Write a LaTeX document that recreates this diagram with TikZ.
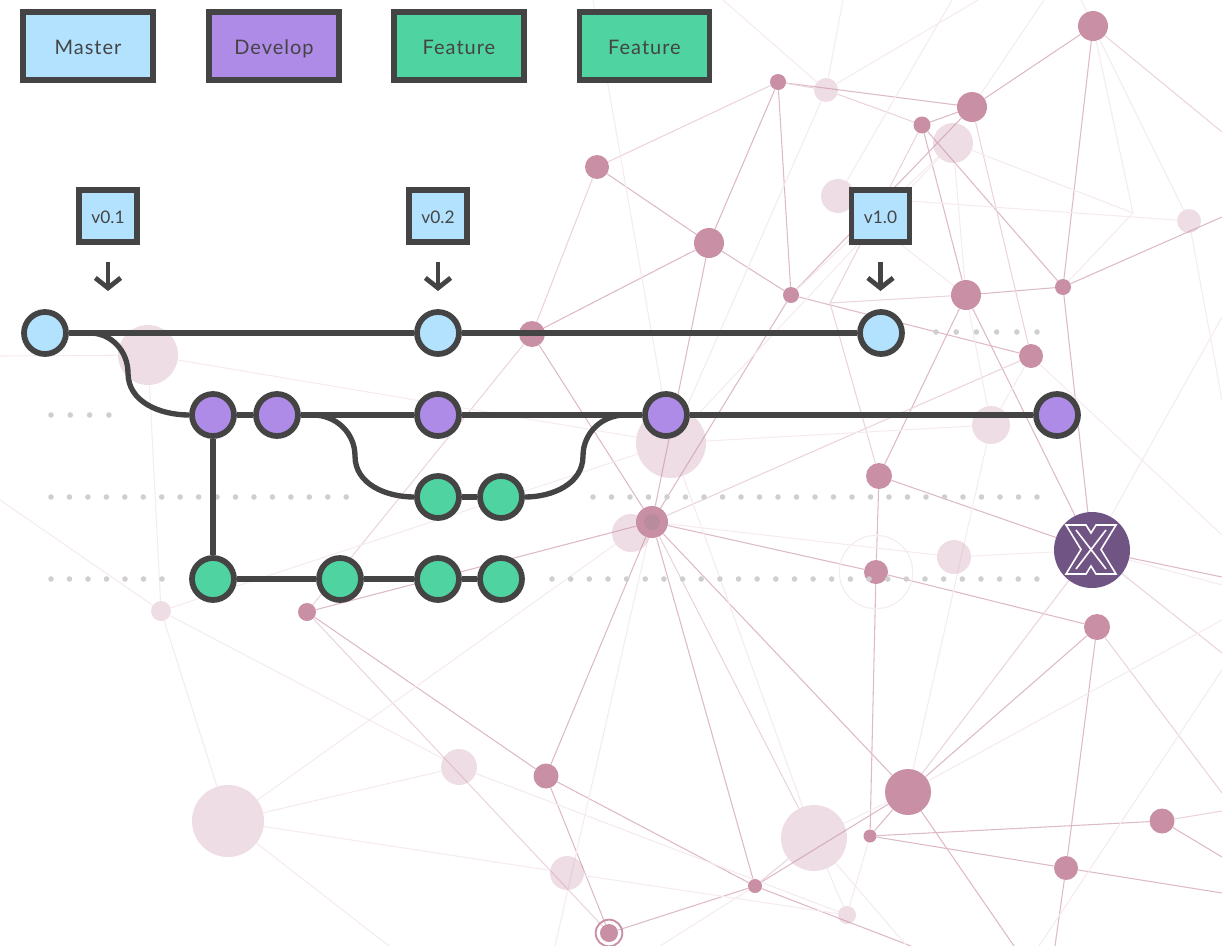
\documentclass[tikz,border=0pt]{standalone}
\usepackage{fontspec}
\usetikzlibrary{arrows.meta,backgrounds}
\newfontfamily\gitfont[LetterSpace=5]{Lato}
\newfontfamily\tagfont{Lato}
\definecolor{gitgray}{HTML}{444444}
\definecolor{gitblue}{HTML}{B3E2FF}
\definecolor{gitpurple}{HTML}{AF8BE8}
\definecolor{gitgreen}{HTML}{4FD3A0}
\definecolor{netrose}{HTML}{C88FA5}
\definecolor{netlogo}{HTML}{67497C}
\definecolor{dotgray}{HTML}{CFCFCF}
\tikzset{
  commit/.style={circle, draw=gitgray, line width=4.3pt, inner sep=0pt, minimum size=31.5pt},
  legendbox/.style={draw=gitgray, line width=4pt, inner sep=0pt, minimum width=97.5pt, minimum height=51pt, text=gitgray, text height=12pt, text depth=0pt, font=\gitfont\fontsize{15pt}{16pt}\selectfont},
  tagbox/.style={draw=gitgray, fill=gitblue, line width=4pt, inner sep=0pt, minimum width=43.5pt, minimum height=39pt, text=gitgray, text height=10.5pt, text depth=0pt, font=\tagfont\fontsize{13pt}{14pt}\selectfont},
  branch/.style={draw=gitgray, line width=4pt},
  tagarrow/.style={draw=gitgray, line width=3.6pt, -{Straight Barb[length=7.5pt,width=19pt,line width=3.6pt]}, shorten <=13pt},
  netstrong/.style={circle, fill=netrose, inner sep=0pt, minimum size={#1*1.5pt}},
  netfaint/.style={circle, fill=netrose, fill opacity=0.3, inner sep=0pt, minimum size={#1*1.5pt}},
  edgestrong/.style={draw=netrose!62, line width=0.8pt},
  edgemid/.style={draw=netrose!38, line width=0.8pt},
  edgefaint/.style={draw=netrose!18, line width=0.8pt},
  dotmark/.style={circle, fill=dotgray, inner sep=0pt, minimum size=4.2pt}
}
\begin{document}
\begin{tikzpicture}[x=0.75pt, y=-0.75pt]
  \useasboundingbox (0,0) rectangle (1222,946);

  % Nodos de la red
  \foreach \n/\x/\y/\r in {a/1093/26/15, b/778/82/8, c/972/107/15, d/922/125/8.5, e/597/167/12,
      f/709/243/15, g/791/295/8, h/966/295/15, i/1063/287/8, j/532/334/13, k/1031/356/12,
      l/879/476/13, m/652/522/16, n/876/572/12, o/1097/627/13, p/307/612/9, q/546/776/12.5,
      r/908/792/23, s/870/836/6.5, t/1162/821/12.5, u/1066/868/12, v/755/886/7, w/609/933/9} {
      \node[netstrong=\r] (\n) at (\x,\y) {};
    }
  \foreach \n/\x/\y/\r in {nA/826/90/12, nB/953/143/20, nC/838/196/17, nD/1189/221/12, nE/148/355/30,
      nF/671/443/35, nG/991/425/19, nH/631/533/19, nI/954/557/17, nJ/161/611/10, nK/459/767/18,
      nL/228/821/36, nM/814/838/33, nN/567/873/17, nO/847/915/9} {
      \node[netfaint=\r] (\n) at (\x,\y) {};
    }
  \node[circle, fill=netrose!80!gray, inner sep=0pt, minimum size=12pt] (mcore) at (652,522) {};
  \node[circle, draw=netrose, line width=1.4pt, inner sep=0pt, minimum size=20pt] (wring) at (609,933) {};
  \node[circle, draw=netrose!18, line width=0.8pt, inner sep=0pt, minimum size=55pt] (nring) at (876,572) {};

  % Logo X
  \node[circle, fill=netlogo, fill opacity=0.94, inner sep=0pt, minimum size=57pt] (X) at (1092,550) {};
  \draw[white, line width=1.2pt, line join=miter] (1066,525) -- (1086,525) -- (1091,533) -- (1096,525) -- (1116,525)
    -- (1101,549.5) -- (1116,574) -- (1096,574) -- (1091,566) -- (1086,574) -- (1066,574) -- (1081,549.5) -- cycle;
  \draw[white, line width=1.2pt] (1076,530) -- (1106,569);
  \draw[white, line width=1.2pt] (1106,530) -- (1076,569);

  % Puntos libres donde terminan las aristas
  \foreach \n/\x/\y in {vP/830/303, vQ/1133/213, tA/723/0, tB/843/0, tC/978/0, tD/952/0, tE/1044/0, tF/1081/0, tG/593/0,
      rA/1222/132, rB/1222/217, rC/1222/400, rD/1222/317, rE/1222/535, rF/1222/577, rG/1222/585, rH/1222/653, rI/1222/620,
      rJ/1222/670, rK/1222/811, rL/1222/857, rM/1222/893, rN/1222/793,
      bA/911/946, bB/1055/946, bC/1039/946, bD/389/946, bE/1014/946, bF/907/946, bG/660/946, bH/555/946, lA/0/356, lB/0/500} {
      \coordinate (\n) at (\x,\y);
    }

  % Aristas de la red
  \begin{pgfonlayer}{background}
    \foreach \a/\b in {e/f, f/g, f/b, f/j, f/m, c/g, c/a, c/d, c/b, d/h, d/i, a/i, i/h, i/rB, g/k, g/m, b/g, j/m, h/l, h/X, i/X,
        l/X, l/n, m/n, m/r, m/v, p/m, p/q, q/m, q/v, q/w, v/w, v/r, v/bA, n/o, o/r, o/u, s/u, s/t, s/r, n/s, t/rL, u/rM, u/bB, X/rF, r/bE} {
        \draw[edgestrong] (\a) -- (\b);
      }
    \foreach \a/\b in {b/e, j/e, j/p, b/nA, nA/d, d/vP, vP/h, vP/l, c/k, p/w, m/nM, X/r, X/rH, a/rA, o/rN, t/rK, k/m, v/nM} {
        \draw[edgemid] (\a) -- (\b);
      }
    \foreach \a/\b in {tA/nA, tB/nA, tC/nA, tD/nC, tE/c, tF/a, tG/nF, a/vQ, a/nD, vQ/nB, nC/nD, vQ/i, nD/rC, nB/g, nB/h, nB/nF, h/nG, k/nG,
        nC/h, nA/nF, nF/nG, nF/nM, lA/nE, nE/nF, nE/nJ, lB/nJ, nJ/nL, nJ/nK, nJ/nF, nL/nK, nL/nN, nL/bD, nL/nH, nK/nO, nN/nO,
        nM/nO, nM/bF, s/nO, v/bG, m/bH, m/nI, nI/X, r/nG, r/rI, k/rE, X/rD, X/rG, rJ/bC, nH/m, nM/r} {
        \draw[edgefaint] (\a) -- (\b);
      }
  \end{pgfonlayer}

  % Filas de puntos
  \foreach \y/\s/\d/\c in {332/936/20.2/5, 415/51/19.3/3, 497/51/18.45/16, 497/593/18.5/24, 579/51/18.5/6, 579/552/18.65/26} {
      \foreach \i in {0,...,\c} {
          \node[dotmark] (dot\y-\s-\i) at ({\s+\d*\i},\y) {};
        }
    }

  % Leyenda
  \node[legendbox, fill=gitblue] (master) at (88,46) {Master};
  \node[legendbox, fill=gitpurple] (develop) at (274,46) {Develop};
  \node[legendbox, fill=gitgreen] (featureA) at (459,46) {Feature};
  \node[legendbox, fill=gitgreen] (featureB) at (644.5,46) {Feature};

  % Etiquetas de version
  \node[tagbox] (tagA) at (108,216) {v0.1};
  \node[tagbox] (tagB) at (438,216) {v0.2};
  \node[tagbox] (tagC) at (880.5,216) {v1.0};
  \coordinate (tipA) at (108,291);
  \coordinate (tipB) at (438,291);
  \coordinate (tipC) at (880.5,291);
  \draw[tagarrow] (tagA) -- (tipA);
  \draw[tagarrow] (tagB) -- (tipB);
  \draw[tagarrow] (tagC) -- (tipC);

  % Commits
  \foreach \n/\x in {M1/45, M2/438, M3/881} {
      \node[commit, fill=gitblue] (\n) at (\x,333) {};
    }
  \foreach \n/\x in {D1/213, D2/277, D3/438, D4/666, D5/1057} {
      \node[commit, fill=gitpurple] (\n) at (\x,415) {};
    }
  \foreach \n/\x/\y in {F1/438/497, F2/501/497, G1/213/579, G2/340/579, G3/438/579, G4/501/579} {
      \node[commit, fill=gitgreen] (\n) at (\x,\y) {};
    }

  % Ramas
  \foreach \a/\b in {M1/M2, M2/M3, D1/D2, D2/D3, D3/D4, D4/D5, F1/F2, G1/G2, G2/G3, G3/G4, D1/G1} {
      \draw[branch] (\a) -- (\b);
    }
  \coordinate (outA) at (90,333);
  \coordinate (midA) at (128,373);
  \coordinate (outB) at (313,415);
  \coordinate (midB) at (355,456);
  \coordinate (outC) at (625,415);
  \coordinate (midC) at (583,456);
  \draw[branch] (outA) to[out=0, in=90] (midA) to[out=-90, in=180] (D1);
  \draw[branch] (outB) to[out=0, in=90] (midB) to[out=-90, in=180] (F1);
  \draw[branch] (F2) to[out=0, in=-90] (midC) to[out=90, in=180] (outC);
\end{tikzpicture}
\end{document}
